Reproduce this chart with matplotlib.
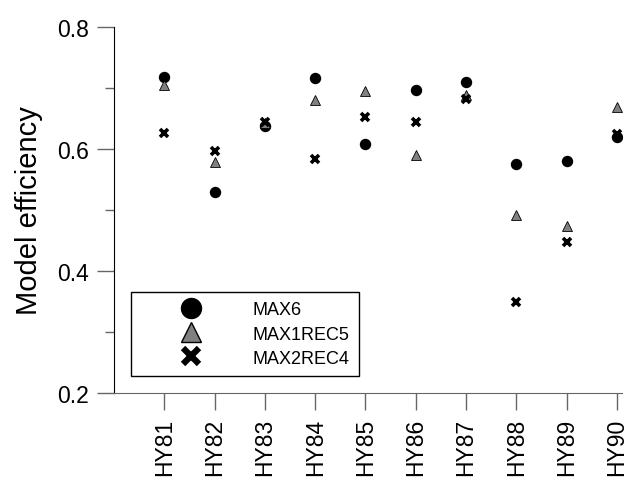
import matplotlib
matplotlib.use("Agg")
import matplotlib.pyplot as plt

plt.rcParams['font.family'] = ['Liberation Sans', 'DejaVu Sans']

years = ['HY81', 'HY82', 'HY83', 'HY84', 'HY85', 'HY86', 'HY87', 'HY88', 'HY89', 'HY90']
max6 = [0.718, 0.530, 0.638, 0.717, 0.609, 0.696, 0.710, 0.576, 0.580, 0.620]
max1rec5 = [0.705, 0.578, 0.643, 0.681, 0.695, 0.590, 0.689, 0.491, 0.473, 0.669]
max2rec4 = [0.627, 0.597, 0.645, 0.584, 0.652, 0.644, 0.682, 0.349, 0.448, 0.625]

x = list(range(1, len(years) + 1))

fig = plt.figure(figsize=(6.32, 4.81), dpi=100)
ax = fig.add_axes([114 / 632, 87 / 481, 508 / 632, 366 / 481])

ax.plot(x, max6, linestyle='none', marker='o', markersize=7.2, color='black', label='MAX6')
ax.plot(x, max1rec5, linestyle='none', marker='^', markersize=7.5, markerfacecolor='#808080',
        markeredgecolor='black', markeredgewidth=0.6, label='MAX1REC5')
ax.plot(x, max2rec4, linestyle='none', marker='x', markersize=6, color='black',
        markeredgewidth=2.6, label='MAX2REC4')

ax.set_xlim(0, 10.1)
ax.set_ylim(0.2, 0.8)
ax.set_xticks(x)
ax.set_xticklabels(years, rotation=90, fontsize=16.5)
ax.set_yticks([0.2, 0.4, 0.6, 0.8])
ax.set_yticks([0.3, 0.5, 0.7], minor=True)
ax.tick_params(axis='y', labelsize=16.5)
ax.tick_params(axis='both', which='major', length=12, width=1, color='#666666', pad=6)
ax.tick_params(axis='y', which='minor', length=6.5, width=1, color='#666666')
ax.set_ylabel('Model efficiency', fontsize=21, labelpad=10)

ax.spines['top'].set_visible(False)
ax.spines['right'].set_visible(False)
ax.spines['left'].set_color('black')
ax.spines['bottom'].set_color('#666666')

leg = ax.legend(loc='lower left', bbox_to_anchor=(0.033, 0.047), borderaxespad=0,
                fontsize=13, markerscale=2, handlelength=5.7, handletextpad=0.55,
                borderpad=0.5, labelspacing=0.4, fancybox=False, framealpha=1)
leg.get_frame().set_edgecolor('black')
leg.get_frame().set_linewidth(1)
leg.legend_handles[1].set_markeredgewidth(1)
leg.legend_handles[2].set_markeredgewidth(4.5)

fig.savefig('out.png', dpi=100)
